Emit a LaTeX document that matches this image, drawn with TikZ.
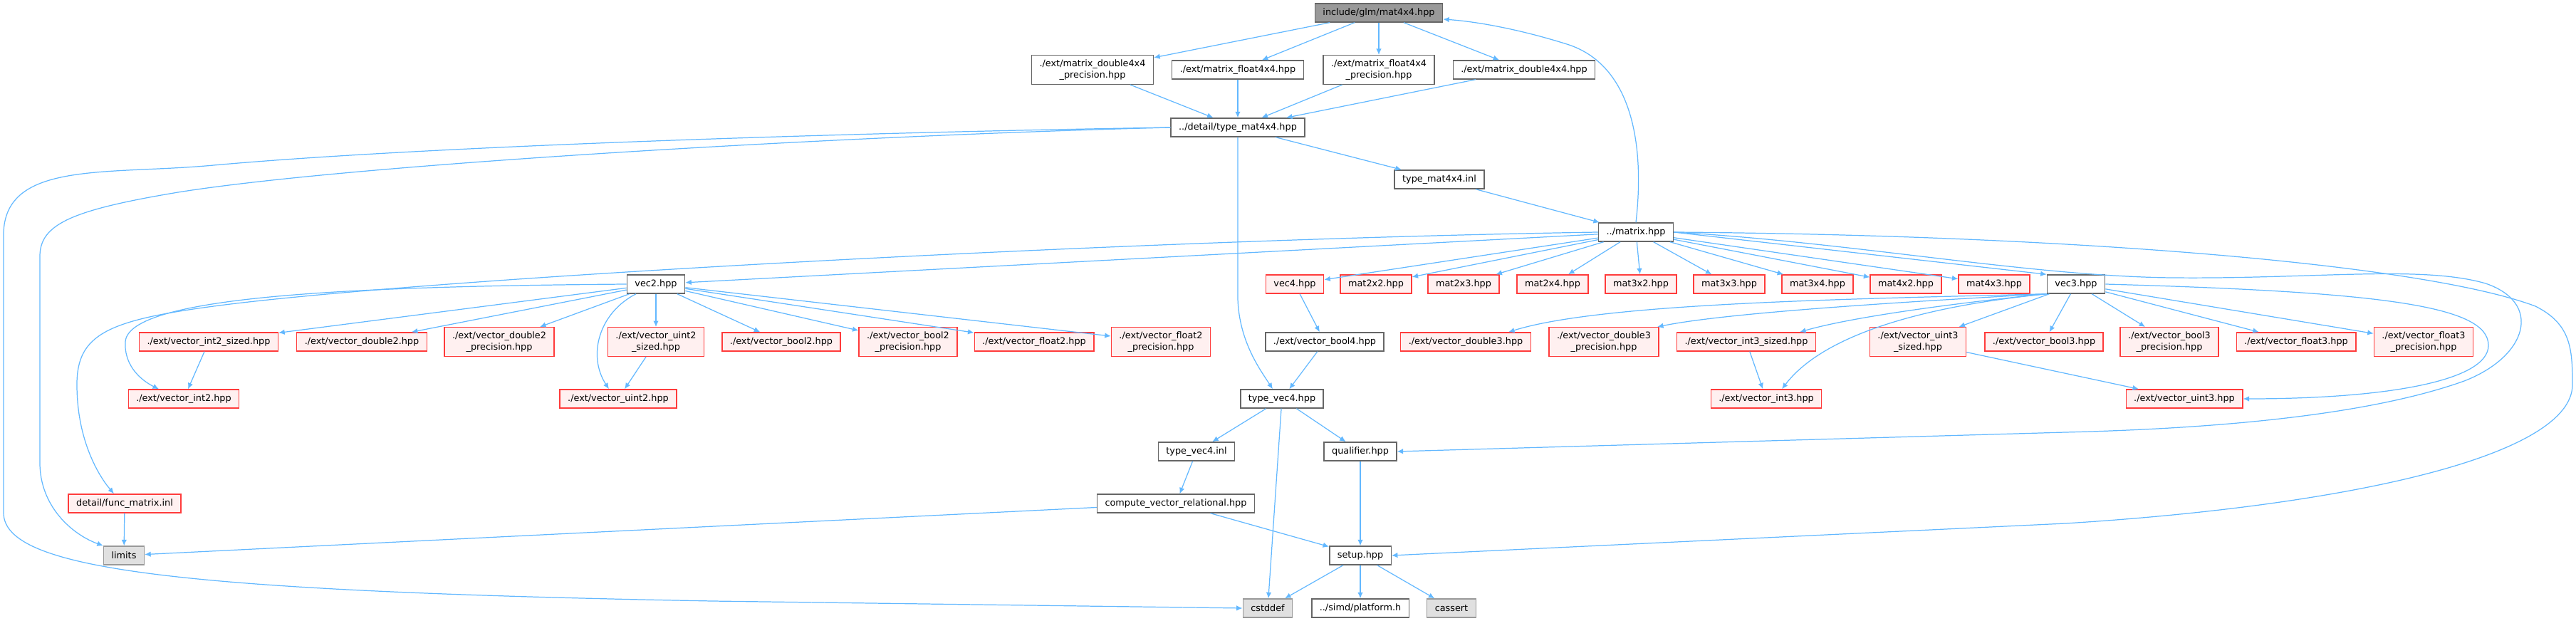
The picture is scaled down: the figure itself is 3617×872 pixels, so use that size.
\documentclass[tikz,border=0pt]{standalone}
\usepackage{fontspec}
\setmainfont{DejaVu Sans}
\usetikzlibrary{arrows.meta}
\definecolor{docedge}{HTML}{63B8FF}
\definecolor{docgray}{HTML}{666666}
\definecolor{docroot}{HTML}{999999}
\definecolor{docred}{HTML}{FF3B3B}
\definecolor{docredfill}{HTML}{FFF0F0}
\definecolor{docsys}{HTML}{999999}
\definecolor{docsysfill}{HTML}{E0E0E0}
\tikzset{
  filebox/.style={
    draw=docgray,
    fill=white,
    line width=0.8pt,
    inner xsep=2.2mm,
    inner ysep=1.2mm,
    minimum height=5.2mm,
    align=center,
    font=\fontsize{7.3}{9}\selectfont
  },
  truncbox/.style={filebox,draw=docred,fill=docredfill},
  sysbox/.style={filebox,draw=docsys,fill=docsysfill},
  rootbox/.style={filebox,fill=docroot},
  incarrow/.style={-{Latex[length=1.7mm,width=1.5mm]},line width=0.7pt,draw=docedge}
}

\begin{document}
\begin{tikzpicture}[x=0.2mm,y=-0.2mm]
  \useasboundingbox (0,0) rectangle (3617,872);

  % top part
  \node[rootbox] (root)    at (1936, 18) {include/glm/mat4x4.hpp};
  \node[filebox] (mdp)     at (1534, 98) {./ext/matrix\_double4x4\\\_precision.hpp};
  \node[filebox] (mf)      at (1738, 98) {./ext/matrix\_float4x4.hpp};
  \node[filebox] (mfp)     at (1936, 98) {./ext/matrix\_float4x4\\\_precision.hpp};
  \node[filebox] (md)      at (2140, 98) {./ext/matrix\_double4x4.hpp};
  \node[filebox] (tmat)    at (1738,179) {../detail/type\_mat4x4.hpp};
  \node[filebox] (tmatinl) at (2021,252) {type\_mat4x4.inl};
  \node[filebox] (matrix)  at (2297,326) {../matrix.hpp};

  % row under matrix.hpp
  \node[filebox]  (vec2) at ( 921,399) {vec2.hpp};
  \node[truncbox] (vec4) at (1818,399) {vec4.hpp};
  \node[truncbox] (m22)  at (1932,399) {mat2x2.hpp};
  \node[truncbox] (m23)  at (2055,399) {mat2x3.hpp};
  \node[truncbox] (m24)  at (2180,399) {mat2x4.hpp};
  \node[truncbox] (m32)  at (2304,399) {mat3x2.hpp};
  \node[truncbox] (m33)  at (2428,399) {mat3x3.hpp};
  \node[truncbox] (m34)  at (2552,399) {mat3x4.hpp};
  \node[truncbox] (m42)  at (2676,399) {mat4x2.hpp};
  \node[truncbox] (m43)  at (2800,399) {mat4x3.hpp};
  \node[filebox]  (vec3) at (2915,399) {vec3.hpp};

  % vector headers
  \node[truncbox] (vi2s) at ( 293,480) {./ext/vector\_int2\_sized.hpp};
  \node[truncbox] (vd2)  at ( 508,480) {./ext/vector\_double2.hpp};
  \node[truncbox] (vd2p) at ( 701,480) {./ext/vector\_double2\\\_precision.hpp};
  \node[truncbox] (vu2s) at ( 921,480) {./ext/vector\_uint2\\\_sized.hpp};
  \node[truncbox] (vb2)  at (1097,480) {./ext/vector\_bool2.hpp};
  \node[truncbox] (vb2p) at (1275,480) {./ext/vector\_bool2\\\_precision.hpp};
  \node[truncbox] (vf2)  at (1452,480) {./ext/vector\_float2.hpp};
  \node[truncbox] (vf2p) at (1630,480) {./ext/vector\_float2\\\_precision.hpp};
  \node[filebox]  (vb4)  at (1860,480) {./ext/vector\_bool4.hpp};
  \node[truncbox] (vd3)  at (2058,480) {./ext/vector\_double3.hpp};
  \node[truncbox] (vd3p) at (2252,480) {./ext/vector\_double3\\\_precision.hpp};
  \node[truncbox] (vi3s) at (2452,480) {./ext/vector\_int3\_sized.hpp};
  \node[truncbox] (vu3s) at (2693,480) {./ext/vector\_uint3\\\_sized.hpp};
  \node[truncbox] (vb3)  at (2870,480) {./ext/vector\_bool3.hpp};
  \node[truncbox] (vb3p) at (3046,480) {./ext/vector\_bool3\\\_precision.hpp};
  \node[truncbox] (vf3)  at (3224,480) {./ext/vector\_float3.hpp};
  \node[truncbox] (vf3p) at (3403,480) {./ext/vector\_float3\\\_precision.hpp};

  \node[truncbox] (vi2) at ( 258,560) {./ext/vector\_int2.hpp};
  \node[truncbox] (vu2) at ( 868,560) {./ext/vector\_uint2.hpp};
  \node[filebox]  (tv4) at (1800,560) {type\_vec4.hpp};
  \node[truncbox] (vi3) at (2480,560) {./ext/vector\_int3.hpp};
  \node[truncbox] (vu3) at (3067,560) {./ext/vector\_uint3.hpp};

  % bottom part
  \node[filebox]  (tv4inl)   at (1680,634) {type\_vec4.inl};
  \node[filebox]  (qual)     at (1910,634) {qualifier.hpp};
  \node[truncbox] (fmi)      at ( 175,707) {detail/func\_matrix.inl};
  \node[filebox]  (cvr)      at (1651,707) {compute\_vector\_relational.hpp};
  \node[sysbox]   (limits)   at ( 174,780) {limits};
  \node[filebox]  (setup)    at (1910,780) {setup.hpp};
  \node[sysbox]   (cstddef)  at (1780,854) {cstddef};
  \node[filebox]  (platform) at (1910,854) {../simd/platform.h};
  \node[sysbox]   (cassert)  at (2038,854) {cassert};

  \foreach \s/\t in {root/mdp,root/mf,root/mfp,root/md,mdp/tmat,mf/tmat,mfp/tmat,md/tmat,
    tmat/tmatinl,tmatinl/matrix,matrix/vec2,matrix/vec4,matrix/m22,matrix/m23,matrix/m24,
    matrix/m32,matrix/m33,matrix/m34,matrix/m42,matrix/m43,
    vec2/vi2s,vec2/vd2,vec2/vd2p,vec2/vu2s,vec2/vb2,vec2/vb2p,vec2/vf2,vec2/vf2p,
    vi2s/vi2,vu2s/vu2,vec4/vb4,vb4/tv4,
    vec3/vu3s,vec3/vb3,vec3/vb3p,vec3/vf3,vec3/vf3p,
    vi3s/vi3,vu3s/vu3,tv4/tv4inl,tv4/qual,tv4/cstddef,tv4inl/cvr,cvr/limits,cvr/setup,
    qual/setup,fmi/limits,setup/cstddef,setup/platform,setup/cassert}
    \draw[incarrow] (\s) -- (\t);

  % curved ones
  \draw[incarrow] (matrix.east) -- (vec3.north west);
  \draw[incarrow] (matrix.north) .. controls (2310,200) and (2290,90) .. (2200,62)
    .. controls (2130,40) and (2070,30) .. ([yshift=-1.8mm]root.east);
  \draw[incarrow] (tmat.south) -- (1738,420) .. controls (1740,480) and (1770,520) .. ([xshift=-2.6mm]tv4.north);
  \draw[incarrow] (tmat.west) .. controls (1200,186) and (600,205) .. (300,232)
    .. controls (150,246) and (5,225) .. (5,330) -- (5,720)
    .. controls (5,800) and (250,830) .. (1000,844) -- (cstddef.west);
  \draw[incarrow] (tmat.west) .. controls (1200,190) and (500,230) .. (250,270)
    .. controls (100,295) and (56,315) .. (56,360) -- (56,650)
    .. controls (56,710) and (100,750) .. (limits.north west);
  \draw[incarrow] (matrix.west) .. controls (1600,336) and (600,390) .. (300,430)
    .. controls (150,450) and (108,470) .. (108,540)
    .. controls (108,620) and (140,670) .. ([xshift=-3mm]fmi.north);
  \draw[incarrow] (matrix.east) .. controls (2600,340) and (2850,388) .. (3050,390)
    .. controls (3250,392) and (3400,372) .. (3490,398)
    .. controls (3570,425) and (3550,500) .. (3460,535)
    .. controls (3320,585) and (3100,602) .. (2900,607) -- (qual.east);
  \draw[incarrow] (matrix.east) .. controls (2900,330) and (3400,370) .. (3560,430)
    .. controls (3610,455) and (3612,490) .. (3612,540)
    .. controls (3612,640) and (3300,710) .. (2900,735) -- (setup.east);
  \draw[incarrow] (vec2.west) .. controls (500,402) and (180,415) .. (176,480)
    .. controls (174,515) and (200,535) .. ([xshift=-7mm]vi2.north);
  \draw[incarrow] ([xshift=-5.6mm]vec2.south) .. controls (840,440) and (825,500) .. ([xshift=-2.6mm]vu2.north);
  \draw[incarrow] (vec3.south west) .. controls (2600,420) and (2250,425) .. ([xshift=12mm]vd3.north);
  \draw[incarrow] (vec3.south west) .. controls (2650,425) and (2420,440) .. ([xshift=15mm]vd3p.north);
  \draw[incarrow] (vec3.south west) .. controls (2750,425) and (2600,445) .. ([xshift=15mm]vi3s.north);
  \draw[incarrow] (vec3.south west) .. controls (2700,430) and (2560,470) .. ([xshift=4.4mm]vi3.north);
  \draw[incarrow] (vec3.east) .. controls (3350,410) and (3494,430) .. (3494,485)
    .. controls (3494,535) and (3350,560) .. (vu3.east);
\end{tikzpicture}
\end{document}
